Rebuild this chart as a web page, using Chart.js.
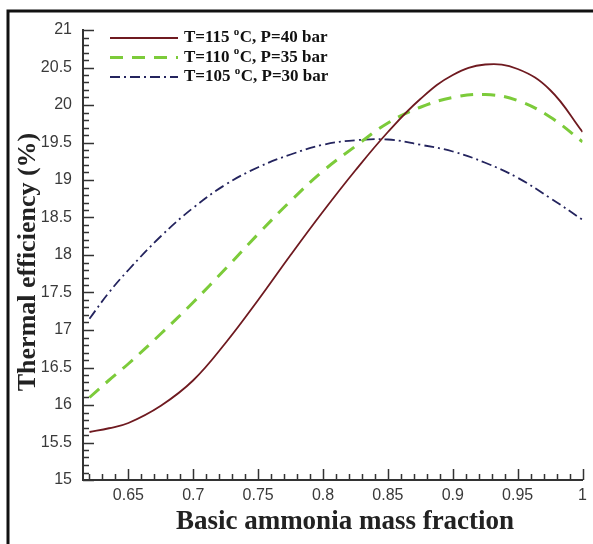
<!DOCTYPE html>
<html>
<head>
<meta charset="utf-8">
<script src="https://cdn.jsdelivr.net/npm/chart.js@4/dist/chart.umd.min.js"></script>
<style>
  body { margin: 0; background: #fff; }
</style>
</head>
<body>
<canvas id="chart" width="593" height="544"></canvas>
<script>
"use strict";

// basic ammonia mass fraction (x) and thermal efficiency (%) per case
var massFraction = [0.62, 0.635, 0.65, 0.675, 0.7, 0.725, 0.75, 0.775, 0.8, 0.825, 0.85, 0.875, 0.9, 0.925, 0.95, 0.975, 1.0];
var eff115 = [15.64, 15.69, 15.76, 15.99, 16.33, 16.83, 17.4, 18.0, 18.58, 19.13, 19.64, 20.08, 20.4, 20.54, 20.48, 20.2, 19.64];
var eff110 = [16.1, 16.33, 16.55, 16.95, 17.37, 17.82, 18.28, 18.72, 19.12, 19.45, 19.76, 19.97, 20.1, 20.14, 20.06, 19.84, 19.51];
var eff105 = [17.15, 17.5, 17.8, 18.25, 18.63, 18.94, 19.17, 19.34, 19.47, 19.53, 19.54, 19.47, 19.38, 19.23, 19.03, 18.76, 18.47];

var seriesLabels = ["T=115 \u00b0C, P=40 bar", "T=110 \u00b0C, P=35 bar", "T=105 \u00b0C, P=30 bar"];
var xTickValues = [0.65, 0.7, 0.75, 0.8, 0.85, 0.9, 0.95, 1];
var yTickValues = [15, 15.5, 16, 16.5, 17, 17.5, 18, 18.5, 19, 19.5, 20, 20.5, 21];
var xTitle = "Basic ammonia mass fraction";
var yTitle = "Thermal efficiency (%)";

var AXIS_COLOR = "#333";
var SERIF = "'Liberation Serif', 'Times New Roman', serif";

function toPoints(values) {
  return massFraction.map(function(x, i) {
    return { x: x, y: values[i] };
  });
}

// outer black frame of the figure (left and top edges)
var framePlugin = {
  id: "frame",
  beforeDraw: function(chart) {
    var ctx = chart.ctx;
    ctx.save();
    ctx.strokeStyle = "#111";
    ctx.lineWidth = 3;
    ctx.beginPath();
    ctx.moveTo(8, chart.height);
    ctx.lineTo(8, 11);
    ctx.lineTo(chart.width, 11);
    ctx.stroke();
    ctx.restore();
  }
};

// inward major / minor tick marks like the original plot
var innerTicksPlugin = {
  id: "innerTicks",
  afterDraw: function(chart) {
    var ctx = chart.ctx;
    var area = chart.chartArea;
    var xs = chart.scales.x;
    var ys = chart.scales.y;
    ctx.save();
    ctx.strokeStyle = AXIS_COLOR;
    ctx.lineWidth = 1.5;
    ctx.beginPath();
    for (var i = 62; i <= 100; i++) {
      var px = Math.round(xs.getPixelForValue(i / 100)) + 0.5;
      var lx = i % 5 === 0 ? 11 : 6;
      ctx.moveTo(px, area.bottom);
      ctx.lineTo(px, area.bottom - lx);
    }
    for (var j = 150; j <= 210; j++) {
      var py = Math.round(ys.getPixelForValue(j / 10)) + 0.5;
      var ly = j % 5 === 0 ? 11 : 6;
      ctx.moveTo(area.left, py);
      ctx.lineTo(area.left + ly, py);
    }
    ctx.stroke();
    ctx.restore();
  }
};

// axis titles, placed where the original figure has them
var axisTitlesPlugin = {
  id: "axisTitles",
  afterDraw: function(chart) {
    var ctx = chart.ctx;
    ctx.save();
    ctx.fillStyle = "#222";
    ctx.textAlign = "center";
    ctx.textBaseline = "middle";
    ctx.font = "bold 27px " + SERIF;
    ctx.fillText(xTitle, 345, 522);
    ctx.translate(28, 262);
    ctx.rotate(-Math.PI / 2);
    ctx.font = "bold 26px " + SERIF;
    ctx.fillText(yTitle, 0, 0);
    ctx.restore();
  }
};

// legend in the top-left corner, with a superscript "o" for degrees
var legendPlugin = {
  id: "innerLegend",
  afterDatasetsDraw: function(chart) {
    var ctx = chart.ctx;
    var area = chart.chartArea;
    var x0 = area.left + 27;
    var y0 = area.top + 8;
    var rowH = 19.5;
    ctx.save();
    chart.data.datasets.forEach(function(ds, i) {
      var y = y0 + i * rowH;
      ctx.strokeStyle = ds.borderColor;
      ctx.lineWidth = ds.borderWidth;
      ctx.setLineDash(ds.borderDash || []);
      ctx.beginPath();
      ctx.moveTo(x0, y);
      ctx.lineTo(x0 + 68, y);
      ctx.stroke();
      ctx.setLineDash([]);

      var parts = ds.label.split("\u00b0");
      var tx = x0 + 74;
      ctx.fillStyle = "#111";
      ctx.textBaseline = "middle";
      ctx.font = "bold 17px " + SERIF;
      ctx.fillText(parts[0], tx, y);
      tx += ctx.measureText(parts[0]).width;
      ctx.font = "bold 11px " + SERIF;
      ctx.fillText("o", tx, y - 6);
      tx += ctx.measureText("o").width + 0.5;
      ctx.font = "bold 17px " + SERIF;
      ctx.fillText(parts[1], tx, y);
    });
    ctx.restore();
  }
};

var tickFont = { family: "'Liberation Sans', Arial, sans-serif", size: 16 };

new Chart(document.getElementById("chart"), {
  type: "line",
  data: {
    datasets: [{
      label: seriesLabels[0],
      data: toPoints(eff115),
      borderColor: "#6f1a20",
      borderWidth: 1.8,
      borderDash: []
    }, {
      label: seriesLabels[1],
      data: toPoints(eff110),
      borderColor: "#7ccb3a",
      borderWidth: 3,
      borderDash: [13, 9]
    }, {
      label: seriesLabels[2],
      data: toPoints(eff105),
      borderColor: "#24245e",
      borderWidth: 1.8,
      borderDash: [10, 4, 2, 4]
    }]
  },
  options: {
    responsive: false,
    animation: false,
    layout: { padding: { top: 30, right: 9.5, left: 0, bottom: 0 } },
    elements: {
      point: { radius: 0 },
      line: { tension: 0.4, fill: false }
    },
    plugins: {
      legend: { display: false },
      tooltip: { enabled: false }
    },
    scales: {
      x: {
        type: "linear",
        min: 0.615,
        max: 1,
        grid: { display: false, drawTicks: false },
        border: { display: true, color: AXIS_COLOR, width: 2 },
        afterBuildTicks: function(scale) {
          scale.ticks = xTickValues.map(function(v) { return { value: v }; });
        },
        afterFit: function(scale) { scale.height = 64; },
        ticks: {
          font: tickFont,
          color: "#3a3a3a",
          padding: 6,
          maxRotation: 0,
          callback: function(v) { return String(v); }
        }
      },
      y: {
        min: 15,
        max: 21,
        grid: { display: false, drawTicks: false },
        border: { display: true, color: AXIS_COLOR, width: 2 },
        afterBuildTicks: function(scale) {
          scale.ticks = yTickValues.map(function(v) { return { value: v }; });
        },
        afterFit: function(scale) { scale.width = 83; },
        ticks: {
          font: tickFont,
          color: "#3a3a3a",
          padding: 11,
          callback: function(v) { return String(v); }
        }
      }
    }
  },
  plugins: [framePlugin, innerTicksPlugin, axisTitlesPlugin, legendPlugin]
});
</script>
</body>
</html>
